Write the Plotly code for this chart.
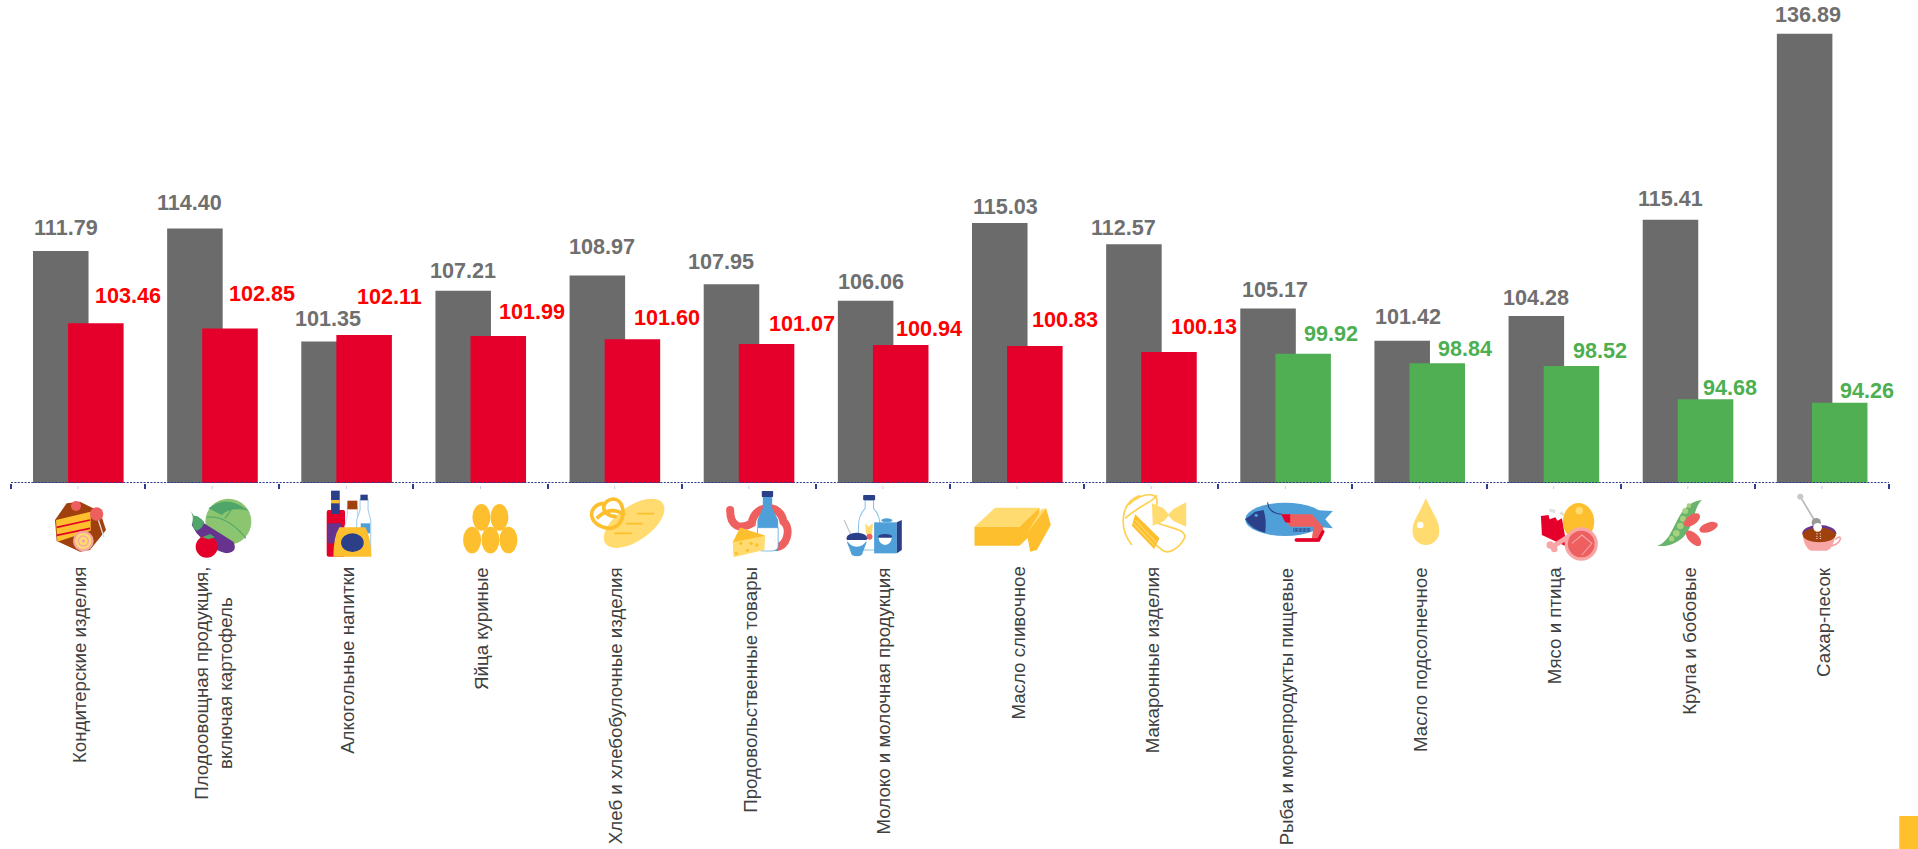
import base64
import plotly.graph_objects as go

CATEGORIES = ["Кондитерские изделия", "Плодоовощная продукция,<br>включая картофель", "Алкогольные напитки",
              "Яйца куриные", "Хлеб и хлебобулочные изделия", "Продовольственные товары",
              "Молоко и молочная продукция", "Масло сливочное", "Макаронные изделия",
              "Рыба и морепродукты пищевые", "Масло подсолнечное", "Мясо и птица", "Крупа и бобовые", "Сахар-песок"]
PREVIOUS = [111.79, 114.40, 101.35, 107.21, 108.97, 107.95, 106.06, 115.03, 112.57, 105.17, 101.42, 104.28, 115.41, 136.89]
CURRENT = [103.46, 102.85, 102.11, 101.99, 101.60, 101.07, 100.94, 100.83, 100.13, 99.92, 98.84, 98.52, 94.68, 94.26]

# label nudges in px (style only)
GRAY_DX = [5.5, -5, -1, 0, 5, -10, 5, 6, -10, 7, 6, 0, 0, 3]
GRAY_DY = [24, 26, 23, 20.5, 29.5, 22.6, 19.4, 16.4, 17, 18.5, 24, 19, 21.6, 19]
NEW_DX = [32, 32, 25, 34, 35, 35, 28, 30, 35, 28, 28, 29, 24, 27]
NEW_DY = [28, 35, 38, 24, 22, 20, 17, 26, 26, 20, 15, 15, 12, 12]

GRAY = "#6B6B6B"
RED = "#E4002B"
GREEN = "#50AE53"
YEL = "#FDBF2D"
LYEL = "#FFDB70"
BLUE = "#4F9FD8"
NAVY = "#2B4088"
SALM = "#EE6060"
PINK = "#F7A5A5"
BROWN = "#A0410D"
PURP = "#66348F"
LGRN = "#8BC56F"
DGRN = "#4FA56A"

L, PLOT_W, PLOT_H, W, H = 11, 1877.7, 483, 1918, 849
STEP = PLOT_W / len(CATEGORIES)
ICON_TOP, ICON_H = 486, 90

# icon artwork: (zoom crop origin x, y, svg drawn in 3x crop pixels)
ICONS = [
 (0, 440, f'''<path d="M165 240L200 190 240 185 300 215 318 270 270 330 240 335 170 303Z" fill="{BROWN}"/>
 <path d="M168 240L272 215 272 272 172 305Z" fill="{YEL}"/>
 <path d="M170 262L270 240M170 286L270 265" stroke="{RED}" stroke-width="5"/>
 <circle cx="228" cy="198" r="15" fill="{SALM}"/><path d="M295 240L312 292" stroke="#ddd" stroke-width="4"/><circle cx="290" cy="222" r="20" fill="{SALM}"/>
 <circle cx="250" cy="303" r="31" fill="{PINK}"/><circle cx="250" cy="303" r="24" fill="{LYEL}"/><circle cx="250" cy="303" r="15" fill="none" stroke="{PINK}" stroke-width="4"/><circle cx="250" cy="303" r="5" fill="{PINK}"/>'''),
 (0, 440, f'''<circle cx="685" cy="245" r="69" fill="{LGRN}"/><path d="M625 205Q680 160 745 212 690 200 665 225Z" fill="{DGRN}"/>
 <path d="M620 232Q680 225 738 295M675 235L700 200" stroke="{DGRN}" stroke-width="3" fill="none"/>
 <path d="M575 255Q585 225 612 250L700 305Q715 335 680 340 640 335 590 280Z" fill="{PURP}"/>
 <path d="M572 212Q580 228 578 240 572 262 590 272 612 262 612 245 592 225 582 228Z" fill="{DGRN}"/>
 <circle cx="620" cy="320" r="33" fill="{RED}"/><path d="M606 292L625 298 645 292 630 282Z" fill="{DGRN}"/>'''),
 (0, 440, f'''<rect x="980" y="210" width="55" height="140" rx="6" fill="{RED}"/><rect x="993" y="152" width="26" height="70" fill="{NAVY}"/><rect x="993" y="180" width="26" height="10" fill="{YEL}"/><rect x="984" y="250" width="40" height="60" fill="{PURP}"/>
 <path d="M1042 200H1072V225L1085 270H1032L1042 225Z" fill="#fff" stroke="#BCD8EE" stroke-width="3"/><rect x="1042" y="182" width="30" height="26" fill="{BROWN}"/>
 <path d="M1080 178H1104V210L1112 240V345H1070V240L1080 210Z" fill="#fff" stroke="#9CC8EA" stroke-width="3"/><rect x="1081" y="164" width="22" height="17" fill="{NAVY}"/><rect x="1082" y="250" width="28" height="30" fill="{BLUE}"/>
 <path d="M1018 262H1096Q1112 290 1114 350H1000Q1000 290 1018 262Z" fill="{YEL}"/><ellipse cx="1057" cy="308" rx="34" ry="28" fill="{NAVY}"/>'''),
 (430, 485, ''.join(f'<ellipse cx="{x}" cy="{y}" rx="27" ry="40" fill="{YEL}"/>' for x, y in [(154, 97), (208, 97), (126, 165), (181, 165), (235, 165)])),
 (430, 485, f'''<ellipse cx="612" cy="115" rx="105" ry="52" transform="rotate(-35 612 115)" fill="{LYEL}"/>
 <path d="M620 86H672M588 116H638M553 145H605" stroke="{YEL}" stroke-width="5"/>
 <path d="M500 100Q540 60 585 90M520 55C470 60 470 125 540 130 590 125 590 45 550 42 510 45 510 95 560 95" fill="none" stroke="{YEL}" stroke-width="11"/>'''),
 (430, 485, f'''<path d="M900 75C900 125 930 135 965 115 970 60 1050 50 1060 110 1085 130 1070 190 1035 185" fill="none" stroke="{SALM}" stroke-width="24" stroke-linecap="round"/>
 <path d="M998 35H1026V70L1044 105V198H982V105L998 70Z" fill="{BLUE}"/><path d="M982 128H1044V185Q1040 198 1025 198H995Q982 195 982 185Z" fill="#fff" stroke="{BLUE}" stroke-width="2"/><rect x="995" y="18" width="34" height="18" rx="2" fill="{NAVY}"/>
 <path d="M908 172L930 128 1005 152 1003 195 910 217Z" fill="{LYEL}"/><path d="M908 172L930 128 1005 152Z" fill="{YEL}"/>
 <circle cx="932" cy="175" r="5" fill="{YEL}"/><circle cx="963" cy="175" r="5" fill="{YEL}"/><circle cx="980" cy="180" r="5" fill="{YEL}"/><circle cx="952" cy="196" r="5" fill="{YEL}"/><circle cx="918" cy="205" r="5" fill="{YEL}"/>'''),
 (820, 485, f'''<path d="M135 45H160V70Q180 90 180 125V195H115V125Q115 90 135 70Z" fill="#fff" stroke="#8CC0E8" stroke-width="3"/><rect x="129" y="30" width="36" height="16" rx="3" fill="{NAVY}"/>
 <path d="M135 115L145 125 158 115 156 145 148 155 138 145Z" fill="{LYEL}"/><circle cx="148" cy="155" r="9" fill="{SALM}"/>
 <path d="M72 105L95 155" stroke="#C8C8C8" stroke-width="4"/>
 <rect x="162" y="112" width="68" height="93" fill="{BLUE}"/><path d="M230 112L245 105V195L230 205Z" fill="{NAVY}"/><ellipse cx="200" cy="106" rx="17" ry="6" fill="{BLUE}"/>
 <ellipse cx="195" cy="155" rx="21" ry="8" fill="{NAVY}"/><path d="M175 158H215Q212 178 195 180 178 178 175 158Z" fill="#fff"/>
 <path d="M80 170H140L125 210Q110 218 95 210Z" fill="{BLUE}"/><ellipse cx="110" cy="160" rx="31" ry="17" fill="{NAVY}"/><path d="M80 165H140Q130 185 110 185 90 185 80 165Z" fill="#fff"/>'''),
 (820, 485, f'''<path d="M463 125L525 68H658L598 125Z" fill="{LYEL}"/><path d="M463 125H598L658 68V125L598 182H463Z" fill="{YEL}"/>
 <path d="M620 145L660 90 678 70 692 120 650 195 630 200Z" fill="{YEL}"/><path d="M620 145L664 72 678 70Z" fill="{LYEL}"/>'''),
 (820, 485, f'''<path d="M960 32C900 50 895 130 935 180M925 60C970 15 1030 20 1005 70M915 100C960 60 1000 50 1010 30M1000 110C1050 130 1090 130 1095 155 1080 190 1040 215 1020 190 1000 170 985 170 965 145" fill="none" stroke="#FFD050" stroke-width="5"/>
 <path d="M995 55L1030 70 1045 88 1060 72 1098 52V125L1060 108 1045 92 1032 108 998 122Z" fill="{LYEL}"/>
 <path d="M945 88L1018 160 1002 192 935 122Z" fill="{YEL}"/><path d="M945 105L1008 172M940 115L1003 182" stroke="{LYEL}" stroke-width="3"/>'''),
 (1210, 485, f'''<path d="M310 75L368 78 345 103 368 130 315 125Z" fill="{BLUE}"/><ellipse cx="225" cy="103" rx="120" ry="50" fill="{BLUE}"/>
 <path d="M105 103L135 80 160 75Q170 105 165 143 125 135 105 103Z" fill="{NAVY}"/><circle cx="138" cy="91" r="5" fill="{BLUE}"/>
 <path d="M172 52Q175 85 215 88" stroke="{NAVY}" stroke-width="3" fill="none"/>
 <path d="M213 88H305L338 125 340 145 325 170H260V160H305L310 125H240Z" fill="{SALM}"/><path d="M213 88H240V113L225 112Z" fill="{RED}"/><path d="M258 165H325L338 140" stroke="{RED}" stroke-width="10" fill="none" stroke-linecap="round"/>
 <path d="M250 135H300" stroke="{NAVY}" stroke-width="12" stroke-dasharray="2 2"/>'''),
 (1210, 485, f'''<path d="M647 40C625 90 605 110 607 140A40 40 0 0 0 687 140C689 110 670 90 647 40Z" fill="{LYEL}"/><circle cx="630" cy="120" r="10" fill="#fff"/>'''),
 (1500, 440, f'''<path d="M148 210L165 215M180 218L190 225" stroke="#E0E0E0" stroke-width="10"/>
 <path d="M122 228L145 225 148 238 165 232 172 242 185 235 200 320 125 285Z" fill="{RED}"/>
 <path d="M205 290L160 318" stroke="{PINK}" stroke-width="15"/><circle cx="150" cy="315" r="11" fill="{PINK}"/><circle cx="162" cy="327" r="10" fill="{PINK}"/>
 <ellipse cx="235" cy="245" rx="47" ry="56" fill="{YEL}"/><circle cx="237" cy="212" r="11" fill="{LYEL}"/>
 <circle cx="243" cy="312" r="50" fill="{PINK}"/><circle cx="243" cy="312" r="40" fill="{SALM}"/><path d="M215 310L245 285 275 310 245 345" fill="none" stroke="{PINK}" stroke-width="3"/>'''),
 (1500, 440, f'''<path d="M470 318C530 300 520 190 605 180 570 210 590 300 495 318Z" fill="#69B46C"/>
 <g fill="#A5D07E"><circle cx="566" cy="197" r="7"/><circle cx="555" cy="213" r="9"/><circle cx="548" cy="236" r="9"/><circle cx="540" cy="258" r="10"/><circle cx="528" cy="280" r="10"/><circle cx="514" cy="296" r="8"/></g>
 <ellipse cx="575" cy="240" rx="28" ry="15" transform="rotate(-35 575 240)" fill="{SALM}"/><ellipse cx="625" cy="262" rx="29" ry="14" transform="rotate(-20 625 262)" fill="{SALM}"/><ellipse cx="580" cy="295" rx="29" ry="15" transform="rotate(45 580 295)" fill="{SALM}"/>'''),
 (1500, 440, f'''<path d="M900 170L945 245" stroke="#B8B8B8" stroke-width="5"/><circle cx="900" cy="170" r="9" fill="#C8C8C8"/>
 <path d="M1005 298Q1022 285 1020 298 1015 315 985 320" fill="none" stroke="{PINK}" stroke-width="5"/>
 <ellipse cx="957" cy="280" rx="51" ry="25" fill="{PURP}"/><path d="M906 282H1006Q1000 325 980 332H932Q912 325 906 282Z" fill="{PINK}"/><ellipse cx="957" cy="285" rx="49" ry="22" fill="{BROWN}"/>
 <circle cx="948" cy="248" r="14" fill="#999"/><circle cx="952" cy="262" r="13" fill="#fff"/><path d="M950 280V300M960 280V300" stroke="#fff" stroke-width="3" stroke-dasharray="3 4"/>'''),
]


def icon_uri(k, ox, oy, body):
    cx = L + STEP * (k + 0.5)
    vb = f"{(cx - STEP / 2 - ox) * 3} {(ICON_TOP - oy) * 3} {STEP * 3} {ICON_H * 3}"
    svg = f'<svg xmlns="http://www.w3.org/2000/svg" viewBox="{vb}" width="{STEP}" height="{ICON_H}">{body}</svg>'
    return "data:image/svg+xml;base64," + base64.b64encode(svg.encode()).decode()


WIDTH, OFF_PREV, OFF_CURR = 0.414, -0.336, -0.0745
GRAY_SHIFT = (OFF_PREV + WIDTH / 2) * STEP
CURR_SHIFT = (OFF_CURR + WIDTH / 2) * STEP
FONT = "Liberation Sans"

fig = go.Figure()
fig.add_bar(x=CATEGORIES, y=[v - 85 for v in PREVIOUS], base=85, width=WIDTH, offset=OFF_PREV,
            marker=dict(color=GRAY, line_width=0), name="prev")
fig.add_bar(x=CATEGORIES, y=[v - 85 for v in CURRENT], base=85, width=WIDTH, offset=OFF_CURR,
            marker=dict(color=[RED if v > 100 else GREEN for v in CURRENT], line_width=0), name="curr")

ann = []
for k, cat in enumerate(CATEGORIES):
    ann.append(dict(x=k, y=PREVIOUS[k], xref="x", yref="y", text=f"{PREVIOUS[k]:.2f}", showarrow=False,
                    xshift=GRAY_SHIFT + GRAY_DX[k], yshift=GRAY_DY[k], yanchor="middle",
                    font=dict(family=FONT, size=21.6, color="#6F6F6F", weight="bold")))
    ann.append(dict(x=k, y=CURRENT[k], xref="x", yref="y", text=f"{CURRENT[k]:.2f}", showarrow=False,
                    xshift=CURR_SHIFT + NEW_DX[k], yshift=NEW_DY[k], yanchor="middle",
                    font=dict(family=FONT, size=21.6, weight="bold",
                              color="#FF0000" if CURRENT[k] > 100 else "#4CAF50")))
    ann.append(dict(x=k, y=0, xref="x", yref="paper", text=cat, showarrow=False, textangle=-90,
                    xshift=1, yshift=-83, yanchor="top", align="center", borderpad=0,
                    font=dict(family=FONT, size=18.7, color="#404040")))

shapes = [dict(type="line", xref="paper", yref="y", x0=0, x1=1, y0=85, y1=85, layer="above",
               line=dict(color="#2E3C8C", width=2, dash="2px,1.4px"))]
for k in range(len(CATEGORIES)):
    shapes.append(dict(type="line", xref="x", yref="paper", x0=k, x1=k, y0=-3 / PLOT_H, y1=-6 / PLOT_H,
                       line=dict(color="#C8CBE0", width=1)))
# yellow corner tab
shapes.append(dict(type="rect", xref="paper", yref="paper", x0=(1899 - L) / PLOT_W, x1=(W - L) / PLOT_W,
                   y0=(PLOT_H - 849) / PLOT_H, y1=(PLOT_H - 816) / PLOT_H, fillcolor="#FFC02B", line_width=0))

images = [dict(source=icon_uri(k, *ic), xref="x", yref="paper", x=k, y=-(ICON_TOP - PLOT_H) / PLOT_H,
               sizex=1, sizey=ICON_H / PLOT_H, xanchor="center", yanchor="top", layer="above", sizing="stretch")
          for k, ic in enumerate(ICONS)]

fig.update_layout(
    width=W, height=H, barmode="overlay", showlegend=False, plot_bgcolor="white", paper_bgcolor="white",
    margin=dict(l=L, r=W - L - PLOT_W, t=0, b=H - PLOT_H, pad=0),
    annotations=ann, shapes=shapes, images=images, font=dict(family=FONT),
    xaxis=dict(type="category", categoryorder="array", categoryarray=CATEGORIES, range=[-0.5, len(CATEGORIES) - 0.5],
               showticklabels=False, showgrid=False, zeroline=False, showline=False,
               ticks="outside", tickson="boundaries", ticklen=5, tickwidth=2, tickcolor="#2E3C8C"),
    yaxis=dict(visible=False, range=[85, 85 + PLOT_H / 8.656]),
)
fig.write_html("out.html", config=dict(displayModeBar=False),
               post_script="document.body.style.margin='0';document.body.style.overflow='hidden';")
